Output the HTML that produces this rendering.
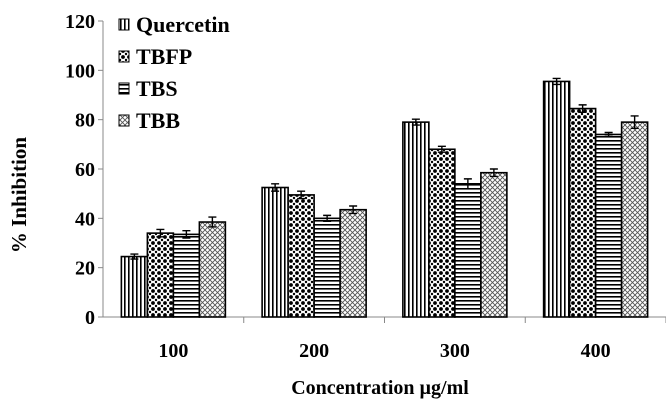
<!DOCTYPE html>
<html><head><meta charset="utf-8"><style>
body{margin:0;background:#fff}
svg text{font-family:"Liberation Serif",serif;font-weight:bold;fill:#000}
</style></head><body>
<svg id="chart" width="666" height="412" viewBox="0 0 666 412" xmlns="http://www.w3.org/2000/svg">
<defs>
<pattern id="p0" width="4" height="4" patternUnits="userSpaceOnUse"><rect width="4" height="4" fill="#fff"/><rect x="0" width="1.6" height="4" fill="#000"/></pattern>
<pattern id="p1" width="6" height="6" patternUnits="userSpaceOnUse"><rect width="6" height="6" fill="#fff"/><circle cx="3" cy="3" r="1.9" fill="#000"/><circle cx="0" cy="0" r="1.2" fill="#000"/><circle cx="6" cy="0" r="1.2" fill="#000"/><circle cx="0" cy="6" r="1.2" fill="#000"/><circle cx="6" cy="6" r="1.2" fill="#000"/></pattern>
<pattern id="p2" width="4" height="4" patternUnits="userSpaceOnUse"><rect width="4" height="4" fill="#fff"/><rect y="0" width="4" height="1.6" fill="#000"/></pattern>
<pattern id="p3" width="5" height="5" patternUnits="userSpaceOnUse"><rect width="5" height="5" fill="#fff"/><path d="M0 0L5 5M5 0L0 5" stroke="#555" stroke-width="0.9"/></pattern>
</defs>
<g id="axes"></g>
<g id="bars"></g>
<g id="legend"></g>
<text transform="translate(26,195) rotate(-90)" text-anchor="middle" font-size="21">% Inhibition</text>
<text x="380" y="394" text-anchor="middle" font-size="20">Concentration µg/ml</text>
</svg>
<script>
const categories=["100","200","300","400"];
const seriesNames=["Quercetin","TBFP","TBS","TBB"];
const quercetin=[24.5,52.5,79,95.5];
const tbfp=[34,49.5,68,84.5];
const tbs=[33.5,40,54,74];
const tbb=[38.5,43.5,58.5,79];
const errQuercetin=[1,1.5,1.2,1.2];
const errTbfp=[1.5,1.5,1.2,1.5];
const errTbs=[1.5,1.2,2,0.8];
const errTbb=[2,1.5,1.5,2.5];
const yTicks=[0,20,40,60,80,100,120];
const NS="http://www.w3.org/2000/svg";
const series=[quercetin,tbfp,tbs,tbb], errs=[errQuercetin,errTbfp,errTbs,errTbb];
const x0=103,x1=666,y0=317,yTop=21,yMax=120;
const catW=(x1-x0)/categories.length;
function y(v){return y0-(v/yMax)*(y0-yTop);}
function cx(i){return x0+catW*(i+0.5);}
function mk(tag,attrs,parent){const e=document.createElementNS(NS,tag);for(const k in attrs)e.setAttribute(k,attrs[k]);parent.appendChild(e);return e;}
const axes=document.getElementById('axes'),bars=document.getElementById('bars'),legend=document.getElementById('legend');
let a=mk('line',{x1:x0,y1:yTop,x2:x0,y2:y0,stroke:'#888'},axes);

a=mk('line',{x1:x0,y1:y0,x2:x1,y2:y0,stroke:'#888'},axes);

yTicks.forEach(t=>{
  const l=mk('line',{x1:x0-5,x2:x0,y1:y(t),y2:y(t),stroke:'#888'},axes);
  
  const tx=mk('text',{x:x0-8,y:y(t)+7,'text-anchor':'end','font-size':'20'},axes);tx.textContent=t;
  
});
categories.forEach((c,i)=>{
  const l=mk('line',{x1:x0+catW*(i+1),x2:x0+catW*(i+1),y1:y0,y2:y0+6,stroke:'#888'},axes);
  
  const tx=mk('text',{x:cx(i),y:357,'text-anchor':'middle','font-size':'20'},axes);tx.textContent=c;
  
});
const bw=26;
series.forEach((s,si)=>{
  s.forEach((v,i)=>{
    const bx=cx(i)-2*bw+si*bw;
    const r=mk('rect',{x:bx,y:y(v),width:bw,height:y0-y(v),fill:'url(#p'+si+')',stroke:'#000','stroke-width':'1.6'},bars);
    
    
    const e=errs[si][i],m=bx+bw/2;
    const g=mk('path',{d:`M${m} ${y(v+e)}V${y(v-e)}M${m-4} ${y(v+e)}H${m+4}M${m-4} ${y(v-e)}H${m+4}`,stroke:'#000','stroke-width':'1.4',fill:'none'},bars);
    
  });
});
seriesNames.forEach((n,si)=>{
  const ly=19+si*32;
  const r=mk('rect',{x:119,y:ly,width:10,height:11,fill:'url(#p'+si+')',stroke:'#000'},legend);
  
  const t=mk('text',{x:136,y:ly+13,'font-size':'22'},legend);t.textContent=n;
  
});
</script>
</body></html>
